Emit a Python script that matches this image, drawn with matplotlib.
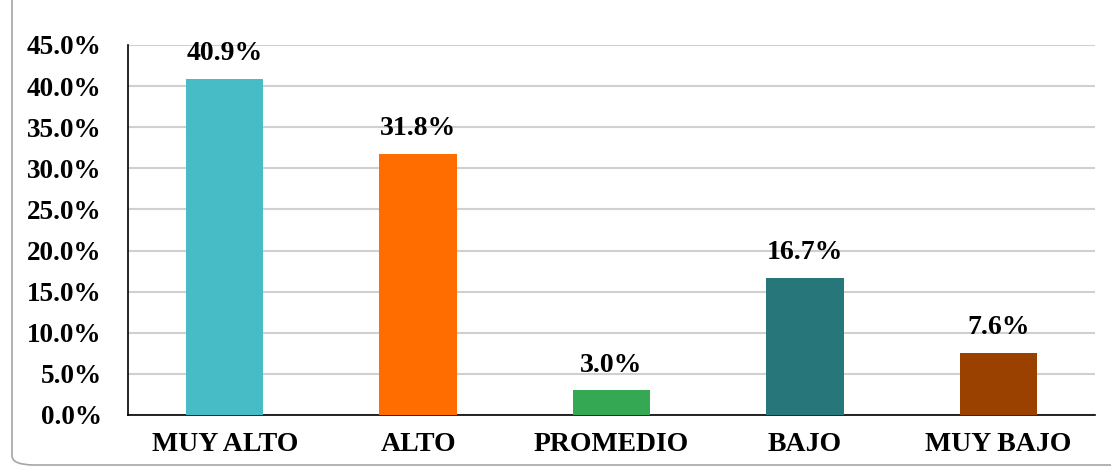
import matplotlib.pyplot as plt
import numpy as np
from matplotlib.patches import FancyBboxPatch

categories = ['MUY ALTO', 'ALTO', 'PROMEDIO', 'BAJO', 'MUY BAJO']
values = [40.9, 31.8, 3.0, 16.7, 7.6]
colors = ['#47BCC6', '#FF6D00', '#34A853', '#27767A', '#9A4100']
yticks = [0, 5, 10, 15, 20, 25, 30, 35, 40, 45]

plt.rcParams['font.family'] = ['Liberation Serif', 'DejaVu Serif']
plt.rcParams['font.weight'] = 'bold'

fig = plt.figure(figsize=(11.11, 4.68), dpi=100)

# rounded frame around the chart
frame = FancyBboxPatch((12 / 1111, 3 / 468), 1.2, 1.2,
                       boxstyle='round,pad=0,rounding_size=0.02',
                       transform=fig.transFigure, fill=False,
                       edgecolor='#A6A6A6', linewidth=1.2)
fig.patches.append(frame)

ax = fig.add_axes([128 / 1111, 53 / 468, 967 / 1111, 370 / 468])
x = np.arange(len(categories))
ax.bar(x, values, width=0.4, color=colors, zorder=3)

for xi, v in zip(x, values):
    ax.text(xi, v + 1.5, f'{v:.1f}%', ha='center', va='bottom',
            fontsize=20, fontweight='bold')

ax.set_xlim(-0.5, len(categories) - 0.5)
ax.set_ylim(0, 45)
ax.set_yticks(yticks)
ax.set_yticklabels([f'{t:.1f}%' for t in yticks], fontsize=19.5, fontweight='bold')
ax.set_xticks(x)
ax.set_xticklabels(categories, fontsize=20, fontweight='bold')
ax.tick_params(axis='both', length=0)
ax.tick_params(axis='x', pad=12)
ax.tick_params(axis='y', pad=19)
ax.grid(axis='y', color='#D0D0D0', linewidth=1.5, zorder=0)
ax.spines['top'].set_visible(False)
ax.spines['right'].set_visible(False)
ax.spines['left'].set_linewidth(1.2)
ax.spines['bottom'].set_linewidth(1.2)

fig.savefig('out.png', dpi=100)
